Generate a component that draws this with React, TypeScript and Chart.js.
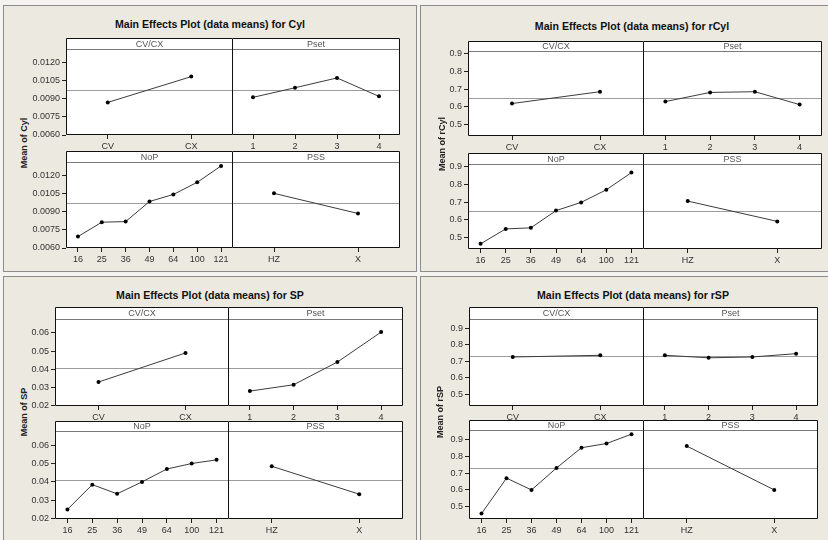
import React, { useEffect, useRef } from 'react';
import { Chart, registerables } from 'chart.js';

Chart.register(...registerables);

const FONT = '"Liberation Sans", Arial, Helvetica, sans-serif';

// ---- categories ----
const cvcxLabels = ['CV', 'CX'];
const psetLabels = ['1', '2', '3', '4'];
const nopLabels = ['16', '25', '36', '49', '64', '100', '121'];
const pssLabels = ['HZ', 'X'];
const factorNames = ['CV/CX', 'Pset', 'NoP', 'PSS'];

// ---- Cyl ----
const cylCvcx = [0.00869, 0.01082];
const cylPset = [0.00911, 0.0099, 0.01071, 0.00919];
const cylNop = [0.00694, 0.00813, 0.00818, 0.00984, 0.01042, 0.01142, 0.01278];
const cylPss = [0.01051, 0.00885];
const cylMean = 0.00972;
const cylTicks = [0.006, 0.0075, 0.009, 0.0105, 0.012];
const cylRange = [0.006, 0.0131];

// ---- rCyl ----
const rcylCvcx = [0.619, 0.685];
const rcylPset = [0.63, 0.681, 0.685, 0.613];
const rcylNop = [0.467, 0.55, 0.556, 0.652, 0.698, 0.768, 0.864];
const rcylPss = [0.705, 0.592];
const rcylMean = 0.651;
const rcylTicks = [0.5, 0.6, 0.7, 0.8, 0.9];
const rcylRange = [0.438, 0.912];

// ---- SP ----
const spCvcx = [0.033, 0.049];
const spPset = [0.028, 0.0315, 0.044, 0.0605];
const spNop = [0.025, 0.0385, 0.0335, 0.04, 0.047, 0.05, 0.052];
const spPss = [0.0485, 0.0333];
const spMean = 0.0408;
const spTicks = [0.02, 0.03, 0.04, 0.05, 0.06];
const spRange = [0.0198, 0.0677];

// ---- rSP ----
const rspCvcx = [0.725, 0.735];
const rspPset = [0.735, 0.72, 0.725, 0.745];
const rspNop = [0.46, 0.67, 0.6, 0.73, 0.85, 0.875, 0.93];
const rspPss = [0.86, 0.6];
const rspMean = 0.73;
const rspTicks = [0.5, 0.6, 0.7, 0.8, 0.9];
const rspRange = [0.428, 0.955];

const categoryLists = [cvcxLabels, psetLabels, nopLabels, pssLabels];

const XH = 16;
const YW = 44;

type Geo = { L: number; D: number; R: number; T1: number; S1: number; B1: number; T2: number; S2: number; B2: number };

const PANELS = [
  {
    title: 'Main Effects Plot (data means) for Cyl', yLabel: 'Mean of Cyl',
    series: [cylCvcx, cylPset, cylNop, cylPss], mean: cylMean, ticks: cylTicks, range: cylRange, dec: 4,
    box: { x: 3, y: 5, w: 414, h: 267 }, tx: 210, ty: 24, lx: 24, ly: 143,
    geo: { L: 66, D: 232, R: 399, T1: 38, S1: 49, B1: 134, T2: 151, S2: 162, B2: 247 },
  },
  {
    title: 'Main Effects Plot (data means) for rCyl', yLabel: 'Mean of rCyl',
    series: [rcylCvcx, rcylPset, rcylNop, rcylPss], mean: rcylMean, ticks: rcylTicks, range: rcylRange, dec: 1,
    box: { x: 420, y: 5, w: 412, h: 267 }, tx: 632, ty: 26, lx: 442, ly: 144,
    geo: { L: 468, D: 643, R: 821, T1: 41, S1: 51, B1: 135, T2: 153, S2: 164, B2: 248 },
  },
  {
    title: 'Main Effects Plot (data means) for SP', yLabel: 'Mean of SP',
    series: [spCvcx, spPset, spNop, spPss], mean: spMean, ticks: spTicks, range: spRange, dec: 2,
    box: { x: 3, y: 276, w: 414, h: 270 }, tx: 210, ty: 295, lx: 24, ly: 412,
    geo: { L: 55, D: 228, R: 402, T1: 307, S1: 319, B1: 405, T2: 421, S2: 431, B2: 518 },
  },
  {
    title: 'Main Effects Plot (data means) for rSP', yLabel: 'Mean of rSP',
    series: [rspCvcx, rspPset, rspNop, rspPss], mean: rspMean, ticks: rspTicks, range: rspRange, dec: 1,
    box: { x: 420, y: 276, w: 412, h: 270 }, tx: 633, ty: 295, lx: 440, ly: 412,
    geo: { L: 469, D: 643, R: 817, T1: 307, S1: 319, B1: 405, T2: 420, S2: 430, B2: 518 },
  },
];

type SubProps = {
  labels: string[]; values: number[]; mean: number; yMin: number; yMax: number; yTicks: number[];
  dec: number; showY: boolean; strip: string; x: number; y: number; w: number; h: number; stripH: number;
};

function SubPlot(p: SubProps) {
  const ref = useRef<HTMLCanvasElement>(null);
  useEffect(() => {
    if (!ref.current) return;
    const stripH = p.stripH;
    const plugin = {
      id: 'frameStrip',
      beforeDraw(chart: any) {
        const { ctx, chartArea: ca } = chart;
        ctx.save();
        ctx.fillStyle = '#ffffff';
        ctx.fillRect(ca.left, 0, ca.right - ca.left, ca.bottom);
        ctx.restore();
      },
      beforeDatasetsDraw(chart: any) {
        const { ctx, chartArea: ca } = chart;
        const yy = Math.round(chart.scales.y.getPixelForValue(p.mean)) + 0.5;
        ctx.save();
        ctx.strokeStyle = '#9c9c9c';
        ctx.lineWidth = 1;
        ctx.beginPath();
        ctx.moveTo(ca.left, yy);
        ctx.lineTo(ca.right, yy);
        ctx.stroke();
        ctx.restore();
      },
      afterDraw(chart: any) {
        const { ctx, chartArea: ca } = chart;
        ctx.save();
        ctx.strokeStyle = '#7a7a7a';
        ctx.lineWidth = 1;
        ctx.beginPath();
        ctx.moveTo(ca.left, stripH + 0.5);
        ctx.lineTo(ca.right, stripH + 0.5);
        ctx.stroke();
        ctx.fillStyle = '#555';
        ctx.font = `9px ${FONT}`;
        ctx.textAlign = 'center';
        ctx.textBaseline = 'middle';
        ctx.fillText(p.strip, (ca.left + ca.right) / 2, stripH / 2 + 1);
        ctx.strokeStyle = '#111';
        ctx.beginPath();
        ctx.rect(Math.round(ca.left) + 0.5, 0.5, Math.round(ca.right) - Math.round(ca.left) - 1, Math.round(ca.bottom) - 1);
        ctx.stroke();
        ctx.restore();
      },
    };
    const chart = new Chart(ref.current, {
      type: 'line',
      data: {
        labels: p.labels,
        datasets: [
          {
            data: p.values,
            borderColor: '#3c3c3c',
            borderWidth: 1,
            pointRadius: 2,
            pointBackgroundColor: '#000',
            pointBorderColor: '#000',
            pointBorderWidth: 0,
            tension: 0,
            clip: false as any,
          },
        ],
      },
      options: {
        responsive: false,
        animation: false,
        devicePixelRatio: 1,
        events: [],
        layout: { padding: { top: stripH, left: 0, right: 0, bottom: 0 }, autoPadding: false } as any,
        plugins: { legend: { display: false }, tooltip: { enabled: false }, title: { display: false } },
        scales: {
          x: {
            type: 'category',
            offset: true,
            grid: { display: true, drawOnChartArea: false, drawTicks: true, tickLength: 4, color: '#222', offset: false },
            border: { display: false },
            ticks: { font: { family: FONT, size: 9 }, color: '#333', padding: 2, maxRotation: 0, autoSkip: false },
            afterFit: (s: any) => { s.height = XH; },
          },
          y: {
            display: p.showY,
            min: p.yMin,
            max: p.yMax,
            grid: { display: true, drawOnChartArea: false, drawTicks: true, tickLength: 4, color: '#222' },
            border: { display: false },
            ticks: {
              font: { family: FONT, size: 9 }, color: '#333', padding: 2,
              callback: (v: any) => Number(v).toFixed(p.dec),
            },
            afterBuildTicks: (s: any) => { s.ticks = p.yTicks.map((v) => ({ value: v })); },
            afterFit: (s: any) => { s.width = p.showY ? YW : 0; },
          },
        },
      } as any,
      plugins: [plugin],
    });
    return () => chart.destroy();
  }, []);
  return (
    <canvas
      ref={ref}
      width={p.w}
      height={p.h}
      style={{ position: 'absolute', left: p.x, top: p.y, width: p.w, height: p.h }}
    />
  );
}

function subplotsFor(panel: typeof PANELS[number], pi: number) {
  const g: Geo = panel.geo;
  const out: JSX.Element[] = [];
  for (let i = 0; i < 4; i++) {
    const row = i < 2 ? 0 : 1;
    const col = i % 2;
    const T = row === 0 ? g.T1 : g.T2;
    const S = row === 0 ? g.S1 : g.S2;
    const B = row === 0 ? g.B1 : g.B2;
    const x = col === 0 ? g.L - YW : g.D;
    const w = col === 0 ? g.D - x + 1 : g.R - g.D + 1;
    out.push(
      <SubPlot
        key={`${pi}-${i}`}
        labels={categoryLists[i]}
        values={panel.series[i]}
        mean={panel.mean}
        yMin={panel.range[0]}
        yMax={panel.range[1]}
        yTicks={panel.ticks}
        dec={panel.dec}
        showY={col === 0}
        strip={factorNames[i]}
        x={x}
        y={T}
        w={w}
        h={B - T + 1 + XH}
        stripH={S - T}
      />
    );
  }
  return out;
}

export default function App() {
  return (
    <div
      style={{
        position: 'fixed', left: 0, top: 0, width: 828, height: 540, overflow: 'hidden',
        background: '#f4f3ef', fontFamily: FONT,
      }}
    >
      {PANELS.map((pn, pi) => (
        <React.Fragment key={pi}>
          <div
            style={{
              position: 'absolute', left: pn.box.x, top: pn.box.y, width: pn.box.w, height: pn.box.h,
              boxSizing: 'border-box', border: '1px solid #8c8c8c', background: '#ece9e0',
            }}
          />
          <div
            style={{
              position: 'absolute', left: pn.tx, top: pn.ty, transform: 'translate(-50%, -50%)',
              whiteSpace: 'nowrap', fontWeight: 'bold', fontSize: 10.6, color: '#111',
            }}
          >
            {pn.title}
          </div>
          <div
            style={{
              position: 'absolute', left: pn.lx, top: pn.ly, transform: 'translate(-50%, -50%) rotate(-90deg)',
              whiteSpace: 'nowrap', fontWeight: 'bold', fontSize: 9, color: '#222',
            }}
          >
            {pn.yLabel}
          </div>
          {subplotsFor(pn, pi)}
        </React.Fragment>
      ))}
    </div>
  );
}
